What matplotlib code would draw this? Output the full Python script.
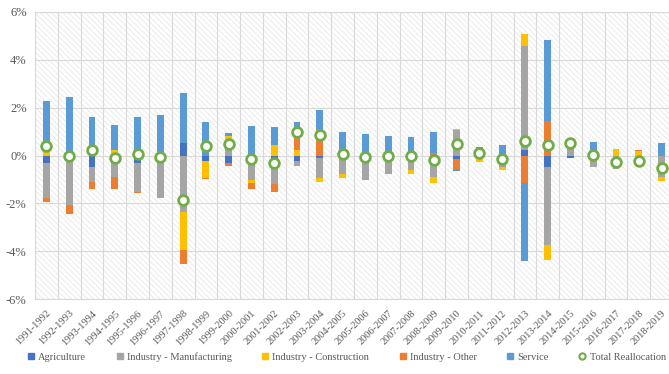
#!/usr/bin/env python3
"""
Reasignacion de empleo por sector, 1991-2019 (barras apiladas + total).
"""

import numpy as np
import matplotlib
matplotlib.use("Agg")
import matplotlib.pyplot as plt
from matplotlib.patches import Rectangle
from matplotlib.lines import Line2D

periods = [
    "1991-1992", "1992-1993", "1993-1994", "1994-1995", "1995-1996", "1996-1997",
    "1997-1998", "1998-1999", "1999-2000", "2000-2001", "2001-2002", "2002-2003",
    "2003-2004", "2004-2005", "2005-2006", "2006-2007", "2007-2008", "2008-2009",
    "2009-2010", "2010-2011", "2011-2012", "2012-2013", "2013-2014", "2014-2015",
    "2015-2016", "2016-2017", "2017-2018", "2018-2019",
]

# valores en %
agriculture = [-0.32, -0.25, -0.46, -0.25, -0.32, 0.0, 0.52, -0.25, -0.32, 0.0,
               -0.20, -0.22, -0.12, -0.05, 0.0, 0.0, 0.0, 0.0, -0.15, 0.0,
               0.0, 0.21, -0.46, -0.12, 0.0, 0.0, 0.0, 0.0]
manufacturing = [-1.47, -1.80, -0.63, -0.63, -1.19, -1.78, -2.36, 0.0, 0.63, -1.02,
                 -0.98, -0.20, -0.80, -0.72, -1.02, -0.77, -0.60, -0.88, 1.06, 0.17,
                 -0.46, 4.35, -3.30, 0.62, -0.49, -0.56, -0.42, -0.88]
construction = [0.24, 0.0, 0.0, 0.24, 0.0, 0.0, -1.61, -0.70, 0.20, -0.11,
                0.45, 0.22, -0.18, -0.15, 0.0, 0.0, -0.17, -0.28, 0.05, -0.28,
                -0.14, 0.52, -0.63, 0.0, 0.0, 0.28, 0.20, -0.19]
industry_other = [-0.14, -0.38, -0.31, -0.52, -0.04, 0.0, -0.56, -0.05, -0.11, -0.27,
                  -0.35, 0.93, 1.11, 0.0, 0.0, 0.0, 0.0, 0.10, -0.42, 0.0,
                  0.0, -1.14, 1.43, 0.0, 0.0, 0.0, 0.03, 0.0]
service = [2.03, 2.46, 1.60, 1.05, 1.60, 1.71, 2.10, 1.39, 0.11, 1.25,
           0.74, 0.24, 0.81, 0.97, 0.91, 0.80, 0.76, 0.88, -0.07, 0.17,
           0.45, -3.28, 3.41, 0.0, 0.56, 0.0, 0.0, 0.52]
total = [0.40, 0.0, 0.24, -0.11, 0.07, -0.07, -1.87, 0.41, 0.49, -0.15,
         -0.33, 0.98, 0.86, 0.06, -0.07, 0.0, 0.0, -0.20, 0.49, 0.10,
         -0.15, 0.62, 0.45, 0.52, 0.04, -0.28, -0.22, -0.52]

series = [
    ("Agriculture", agriculture, "#4472C4"),
    ("Industry - Manufacturing", manufacturing, "#A5A5A5"),
    ("Industry - Construction", construction, "#FFC000"),
    ("Industry - Other", industry_other, "#ED7D31"),
    ("Service", service, "#5B9BD5"),
]

plt.rcParams["font.family"] = ["Liberation Serif", "DejaVu Serif"]
plt.rcParams["hatch.linewidth"] = 0.5
TXT = "#595959"
GRID = "#d9d9d9"

fig = plt.figure(figsize=(6.69, 3.74), dpi=100)
ax = fig.add_axes([35 / 669, 1 - 299 / 374, 638 / 669, 287 / 374])

# fondo rayado
ax.add_patch(Rectangle((0, 0), 1, 1, transform=ax.transAxes, facecolor="white",
                       edgecolor="#e3e3e3", hatch="\\\\\\\\\\\\", linewidth=0, zorder=0))

x = np.arange(len(periods))
pos_base = np.zeros(len(periods))
neg_base = np.zeros(len(periods))
handles = []
for name, vals, color in series:
    v = np.array(vals)
    bottom = np.where(v >= 0, pos_base, neg_base)
    ax.bar(x, v, width=0.3, bottom=bottom, color=color, zorder=3)
    pos_base += np.where(v >= 0, v, 0)
    neg_base += np.where(v < 0, v, 0)
    handles.append(Line2D([], [], marker="s", linestyle="none", markersize=4.5,
                          color=color, label=name))

ax.plot(x, total, linestyle="none", marker="o", markersize=7,
        markerfacecolor="white", markeredgecolor="#70AD47", markeredgewidth=2, zorder=5)
handles.append(Line2D([], [], marker="o", linestyle="none", markersize=4.5,
                      markerfacecolor="white", markeredgecolor="#70AD47",
                      markeredgewidth=1.5, label="Total Reallocation"))

ax.set_xlim(-0.5, len(periods) - 0.5)
ax.set_ylim(-6, 6)
ax.set_yticks(np.arange(-6, 7, 2))
ax.set_yticklabels([f"{t}%" for t in range(-6, 7, 2)], color=TXT, fontsize=9)
ax.set_xticks(x)
ax.set_xticklabels(periods, rotation=45, ha="right", rotation_mode="anchor",
                   color=TXT, fontsize=7.5)
ax.tick_params(axis="y", length=0, pad=6)
ax.tick_params(axis="x", length=0, pad=7)

ax.set_xticks(np.arange(-0.5, len(periods), 1), minor=True)
ax.tick_params(which="minor", length=0)
ax.grid(True, axis="y", which="major", color=GRID, linewidth=0.8, zorder=1)
ax.grid(True, axis="x", which="minor", color=GRID, linewidth=0.8, zorder=1)
ax.set_axisbelow(True)
for s in ax.spines.values():
    s.set_color(GRID)

fig.legend(handles=handles, loc="center", bbox_to_anchor=(0.516, 0.045), ncol=6,
           frameon=False, fontsize=7.5, handletextpad=0.1, columnspacing=2.6,
           handlelength=1.2, labelcolor=TXT)

fig.savefig("out.png", dpi=100)
